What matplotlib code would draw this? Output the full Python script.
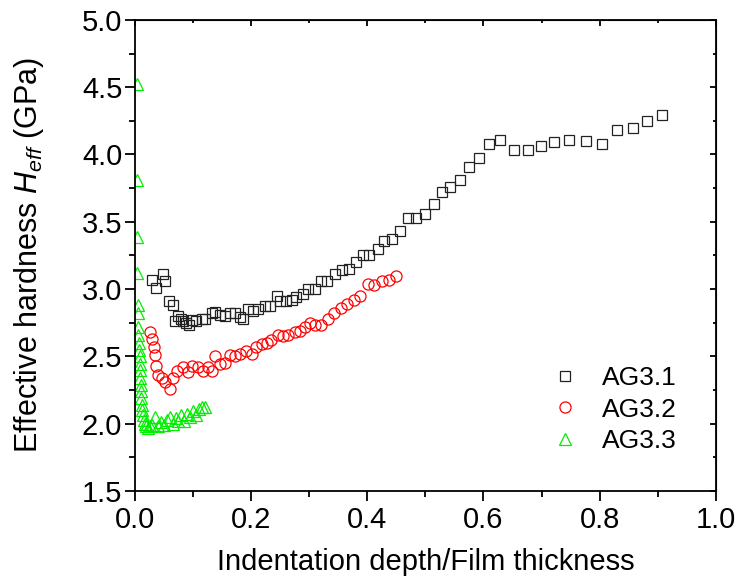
import numpy as np
import matplotlib
matplotlib.use("Agg")
import matplotlib.pyplot as plt
from matplotlib.ticker import MultipleLocator, NullFormatter, FormatStrFormatter

plt.rcParams['font.family'] = ['Liberation Sans', 'DejaVu Sans']
plt.rcParams['mathtext.fontset'] = 'custom'
plt.rcParams['mathtext.rm'] = 'Liberation Sans'
plt.rcParams['mathtext.it'] = 'Liberation Sans:italic'

# --- data ---
ag31_x = [0.029, 0.036, 0.048, 0.052, 0.059, 0.065, 0.069, 0.075, 0.080, 0.083, 0.088, 0.093,
          0.098, 0.106, 0.115, 0.120, 0.132, 0.138, 0.146, 0.155, 0.163, 0.172, 0.181, 0.186,
          0.195, 0.204, 0.212, 0.224, 0.232, 0.244, 0.250, 0.261, 0.270, 0.278, 0.290, 0.298,
          0.310, 0.321, 0.330, 0.344, 0.356, 0.369, 0.380, 0.392, 0.403, 0.418, 0.429, 0.443,
          0.457, 0.470, 0.484, 0.499, 0.515, 0.529, 0.543, 0.559, 0.575, 0.592, 0.609, 0.629,
          0.652, 0.676, 0.699, 0.722, 0.748, 0.776, 0.804, 0.830, 0.858, 0.882, 0.907]
ag31_y = [3.07, 3.01, 3.11, 3.06, 2.91, 2.88, 2.76, 2.80, 2.78, 2.76, 2.75, 2.73,
          2.77, 2.76, 2.78, 2.78, 2.82, 2.83, 2.81, 2.80, 2.82, 2.82, 2.79, 2.78,
          2.85, 2.84, 2.85, 2.87, 2.87, 2.95, 2.91, 2.91, 2.92, 2.94, 2.96, 3.00,
          3.00, 3.06, 3.06, 3.11, 3.14, 3.15, 3.20, 3.25, 3.25, 3.30, 3.36, 3.37,
          3.43, 3.53, 3.53, 3.56, 3.63, 3.72, 3.76, 3.81, 3.91, 3.97, 4.08, 4.11,
          4.03, 4.03, 4.06, 4.09, 4.11, 4.10, 4.08, 4.18, 4.20, 4.25, 4.29]

ag32_x = [0.026, 0.030, 0.033, 0.034, 0.037, 0.040, 0.046, 0.052, 0.060, 0.066, 0.073, 0.083,
          0.092, 0.099, 0.109, 0.118, 0.126, 0.132, 0.138, 0.146, 0.155, 0.164, 0.172, 0.181,
          0.192, 0.201, 0.209, 0.218, 0.227, 0.235, 0.247, 0.255, 0.264, 0.275, 0.284, 0.293,
          0.301, 0.310, 0.321, 0.333, 0.343, 0.354, 0.365, 0.377, 0.388, 0.402, 0.412, 0.425,
          0.438, 0.450]
ag32_y = [2.68, 2.63, 2.57, 2.51, 2.43, 2.36, 2.34, 2.31, 2.26, 2.34, 2.39, 2.42,
          2.38, 2.43, 2.42, 2.39, 2.42, 2.39, 2.50, 2.44, 2.45, 2.51, 2.50, 2.52,
          2.54, 2.52, 2.57, 2.59, 2.60, 2.62, 2.66, 2.65, 2.66, 2.68, 2.69, 2.72,
          2.75, 2.73, 2.73, 2.78, 2.82, 2.86, 2.89, 2.92, 2.95, 3.04, 3.03, 3.06,
          3.07, 3.10]

ag33_x = [0.003, 0.003, 0.003, 0.004, 0.005, 0.005, 0.006, 0.006, 0.007, 0.007, 0.008, 0.008,
          0.009, 0.009, 0.010, 0.010, 0.011, 0.012, 0.013, 0.014, 0.016, 0.018, 0.020, 0.023,
          0.026, 0.030, 0.035, 0.040, 0.045, 0.050, 0.055, 0.060, 0.065, 0.070, 0.075, 0.080,
          0.085, 0.090, 0.095, 0.100, 0.105, 0.110, 0.115, 0.120]
ag33_y = [4.52, 3.81, 3.39, 3.12, 2.88, 2.82, 2.72, 2.66, 2.60, 2.55, 2.50, 2.44,
          2.40, 2.34, 2.29, 2.24, 2.19, 2.14, 2.10, 2.06, 2.03, 2.00, 1.98, 1.97,
          1.98, 1.99, 2.05, 1.98, 2.01, 1.99, 2.03, 2.05, 2.00, 2.04, 2.02, 2.06,
          2.02, 2.07, 2.05, 2.09, 2.06, 2.11, 2.12, 2.12]

fig = plt.figure(figsize=(7.41, 5.85), dpi=100)
ax = fig.add_axes([0.182, 0.161, 0.784, 0.805])

mk = dict(linestyle='none', markerfacecolor='none', markeredgewidth=0.9)
ax.plot(ag31_x, ag31_y, marker='s', markersize=7, markeredgecolor='#222222', label='AG3.1', **mk)
ax.plot(ag32_x, ag32_y, marker='o', markersize=8, markeredgecolor='#ff0000', label='AG3.2', **mk)
ax.plot(ag33_x, ag33_y, marker='^', markersize=8, markeredgecolor='#00ee00', label='AG3.3', **mk)

ax.set_xlim(0, 1.0)
ax.set_ylim(1.5, 5.0)
ax.xaxis.set_major_locator(MultipleLocator(0.2))
ax.xaxis.set_minor_locator(MultipleLocator(0.1))
ax.yaxis.set_major_locator(MultipleLocator(0.5))
ax.yaxis.set_minor_locator(MultipleLocator(0.25))
ax.xaxis.set_major_formatter(FormatStrFormatter('%.1f'))
ax.yaxis.set_major_formatter(FormatStrFormatter('%.1f'))

for s in ax.spines.values():
    s.set_linewidth(1.3)
ax.tick_params(which='both', direction='out', top=False, right=False, width=1.3, labelsize=21)
ax.tick_params(which='major', length=7)
ax.tick_params(which='minor', length=4)
ax.tick_params(axis='y', pad=2)
ax.tick_params(axis='x', pad=4)

# inward ticks on top and right, no labels
secx = ax.secondary_xaxis('top')
secx.xaxis.set_major_locator(MultipleLocator(0.2))
secx.xaxis.set_minor_locator(MultipleLocator(0.1))
secx.xaxis.set_major_formatter(NullFormatter())
secx.tick_params(which='both', direction='in', width=1.3)
secx.tick_params(which='major', length=4)
secx.tick_params(which='minor', length=2.5)
secy = ax.secondary_yaxis('right')
secy.yaxis.set_major_locator(MultipleLocator(0.5))
secy.yaxis.set_minor_locator(MultipleLocator(0.25))
secy.yaxis.set_major_formatter(NullFormatter())
secy.tick_params(which='both', direction='in', width=1.3)
secy.tick_params(which='major', length=4)
secy.tick_params(which='minor', length=2.5)

ax.set_xlabel('Indentation depth/Film thickness', fontsize=21, labelpad=10)
ax.set_ylabel(r'Effective hardness $H_{eff}$ (GPa)', fontsize=22, labelpad=26)

ax.legend(loc='lower right', bbox_to_anchor=(0.974, 0.030), frameon=False, fontsize=19,
          handletextpad=0.9, labelspacing=0.28, handlelength=1.0)

fig.savefig('out.png', dpi=100)
